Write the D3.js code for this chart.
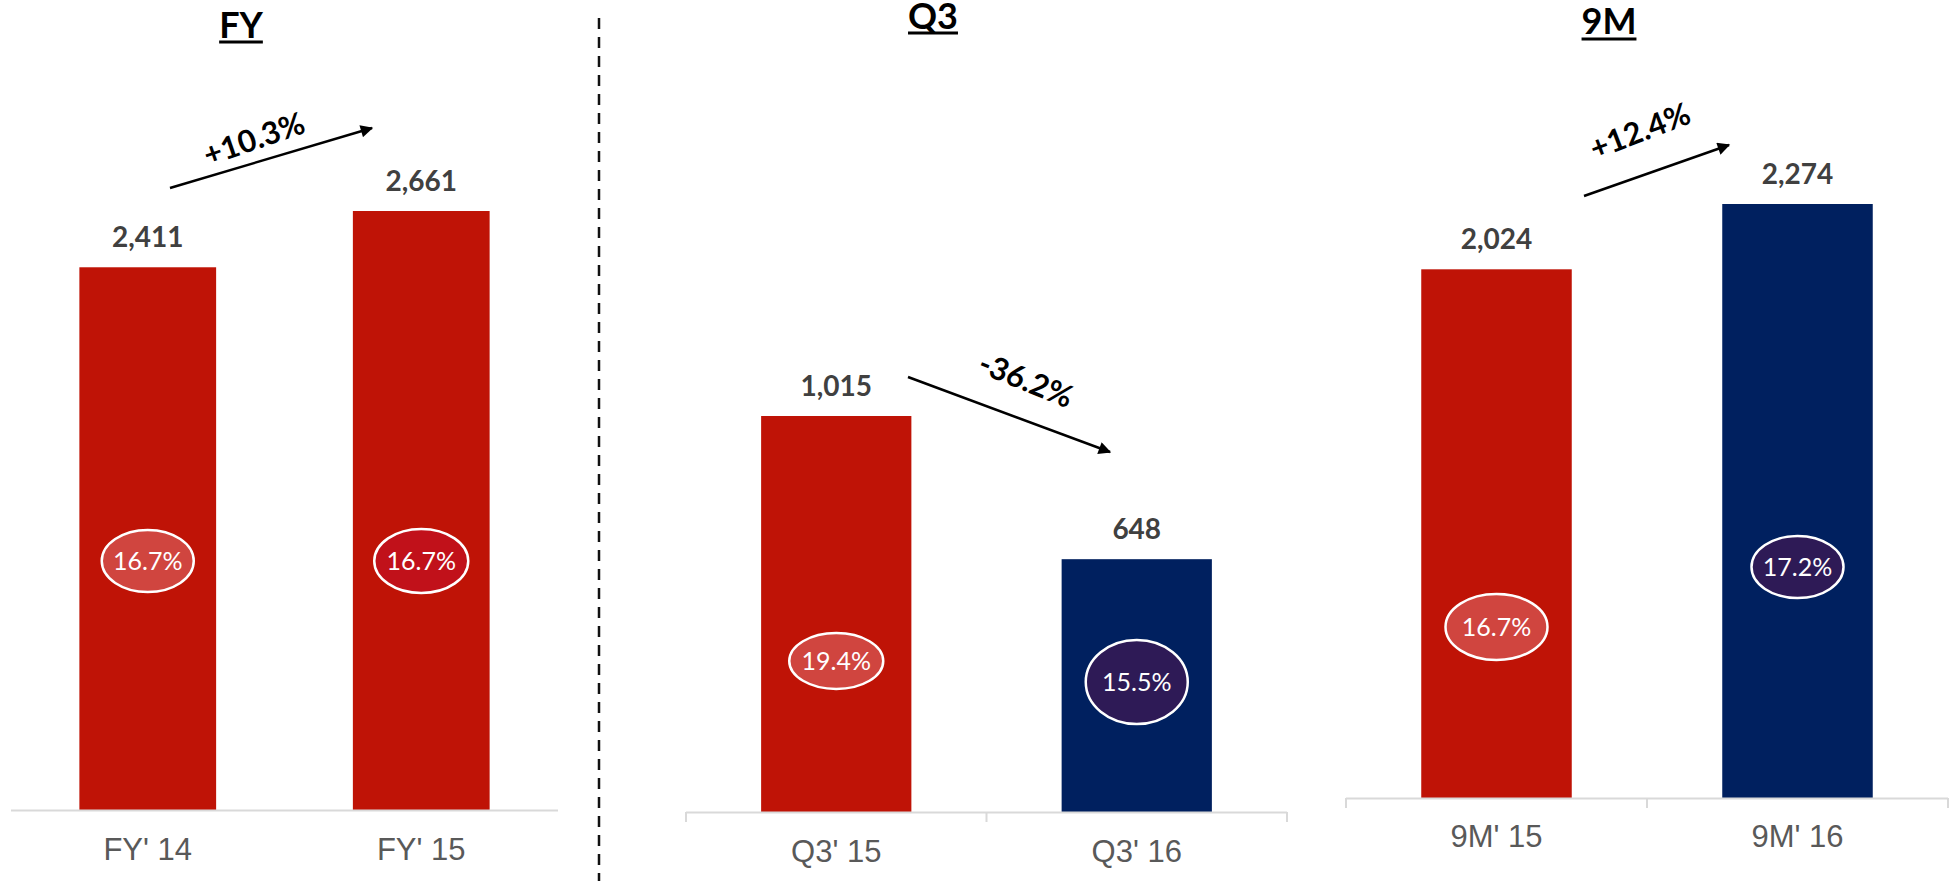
<!DOCTYPE html>
<html>
<head>
<meta charset="utf-8">
<script src="https://cdn.jsdelivr.net/npm/d3@7"></script>
<style>
  html, body { margin: 0; padding: 0; background: #ffffff; }
  svg { display: block; }
</style>
</head>
<body>
<svg id="chart" width="1950" height="881"></svg>
<script>
// ---- Data ----
const panelTitles = ["FY", "Q3", "9M"];
const fyCategories = ["FY' 14", "FY' 15"];
const fyValues = [2411, 2661];
const fyMargins = ["16.7%", "16.7%"];
const q3Categories = ["Q3' 15", "Q3' 16"];
const q3Values = [1015, 648];
const q3Margins = ["19.4%", "15.5%"];
const nmCategories = ["9M' 15", "9M' 16"];
const nmValues = [2024, 2274];
const nmMargins = ["16.7%", "17.2%"];
const changeLabels = ["+10.3%", "-36.2%", "+12.4%"];

// ---- Colours ----
const RED = "#BF1306";
const NAVY = "#00205F";
const LIGHT_RED = "#D0453F";
const DEEP_RED = "#C1111A";
const PURPLE = "#2E1A56";

// ---- Layout of each panel ----
const panels = [
  {
    title: panelTitles[0], cats: fyCategories, vals: fyValues, margins: fyMargins,
    x0: 11, x1: 558, base: 810, maxTop: 211, ticks: false,
    barColors: [RED, RED], bubbleColors: [LIGHT_RED, DEEP_RED],
    bubbles: [{cy: 561, rx: 46, ry: 31}, {cy: 561, rx: 47, ry: 32}],
    titleX: 241, titleY: 38, underlineY: 42,
    labelY: 860,
    arrow: {x1: 170, y1: 188, x2: 372, y2: 128},
    change: {text: changeLabels[0], x: 254, y: 139, angle: -19}
  },
  {
    title: panelTitles[1], cats: q3Categories, vals: q3Values, margins: q3Margins,
    x0: 686, x1: 1287, base: 812, maxTop: 416, ticks: true,
    barColors: [RED, NAVY], bubbleColors: [LIGHT_RED, PURPLE],
    bubbles: [{cy: 661, rx: 47, ry: 28}, {cy: 682, rx: 51, ry: 42}],
    titleX: 933, titleY: 29, underlineY: 33,
    labelY: 862,
    arrow: {x1: 908, y1: 377, x2: 1110, y2: 452},
    change: {text: changeLabels[1], x: 1026, y: 380, angle: 22}
  },
  {
    title: panelTitles[2], cats: nmCategories, vals: nmValues, margins: nmMargins,
    x0: 1346, x1: 1948, base: 798, maxTop: 204, ticks: true,
    barColors: [RED, NAVY], bubbleColors: [LIGHT_RED, PURPLE],
    bubbles: [{cy: 627, rx: 51, ry: 33}, {cy: 567, rx: 46, ry: 31}],
    titleX: 1609, titleY: 34, underlineY: 39,
    labelY: 847,
    arrow: {x1: 1584, y1: 196, x2: 1729, y2: 145},
    change: {text: changeLabels[2], x: 1640, y: 131, angle: -21}
  }
];

const svg = d3.select("#chart");
const fmt = d3.format(",");

// Arrowhead marker
svg.append("defs").append("marker")
  .attr("id", "arrowhead")
  .attr("viewBox", "0 0 10 10")
  .attr("refX", 9).attr("refY", 5)
  .attr("markerWidth", 6).attr("markerHeight", 5)
  .attr("markerUnits", "strokeWidth")
  .attr("orient", "auto")
  .append("path")
  .attr("d", "M0,0 L10,5 L0,10 Z")
  .attr("fill", "#000");

// Dashed divider between the full-year panel and the quarterly panels
svg.append("line")
  .attr("x1", 599).attr("x2", 599)
  .attr("y1", 18).attr("y2", 881)
  .attr("stroke", "#111")
  .attr("stroke-width", 2.5)
  .attr("stroke-dasharray", "11 8");

panels.forEach(p => {
  const g = svg.append("g");

  const x = d3.scaleBand()
    .domain(p.cats)
    .range([p.x0, p.x1])
    .paddingInner(0.5)
    .paddingOuter(0.25);

  const y = d3.scaleLinear()
    .domain([0, d3.max(p.vals)])
    .range([p.base, p.maxTop]);

  const rows = p.cats.map((c, i) => ({cat: c, val: p.vals[i], margin: p.margins[i], i}));

  // Bars
  g.selectAll("rect.bar").data(rows).join("rect")
    .attr("class", "bar")
    .attr("x", d => x(d.cat))
    .attr("width", x.bandwidth())
    .attr("y", d => y(d.val))
    .attr("height", d => y(0) - y(d.val))
    .attr("fill", d => p.barColors[d.i]);

  // Category axis
  const axis = d3.axisBottom(x).tickSize(0).tickPadding(0);
  const ax = g.append("g")
    .attr("transform", `translate(0,${p.base})`)
    .call(axis);
  ax.select(".domain")
    .attr("d", `M${p.x0},0.5H${p.x1}`)
    .attr("stroke", "#D9D9D9")
    .attr("stroke-width", 2);
  ax.selectAll(".tick text")
    .attr("y", p.labelY - p.base)
    .attr("dy", 0)
    .attr("fill", "#595959")
    .style("font-family", "'Liberation Sans', Arial, sans-serif")
    .style("font-size", "31px");

  // Boundary tick marks between categories
  if (p.ticks) {
    const step = x.step();
    const edges = [p.x0, p.x0 + step, p.x1];
    ax.selectAll("line.edge").data(edges).join("line")
      .attr("class", "edge")
      .attr("x1", d => d).attr("x2", d => d)
      .attr("y1", 0).attr("y2", 10)
      .attr("stroke", "#D9D9D9")
      .attr("stroke-width", 2);
  }

  // Value labels above bars
  g.selectAll("text.value").data(rows).join("text")
    .attr("class", "value")
    .attr("x", d => x(d.cat) + x.bandwidth() / 2)
    .attr("y", d => y(d.val) - 20)
    .attr("text-anchor", "middle")
    .attr("fill", "#404040")
    .style("font-family", "Lato, 'Open Sans', sans-serif")
    .style("font-weight", "700")
    .style("font-size", "28px")
    .text(d => fmt(d.val));

  // Margin bubbles inside bars
  const bub = g.selectAll("g.bubble").data(rows).join("g")
    .attr("class", "bubble")
    .attr("transform", d => `translate(${x(d.cat) + x.bandwidth() / 2},${p.bubbles[d.i].cy})`);
  bub.append("ellipse")
    .attr("rx", d => p.bubbles[d.i].rx)
    .attr("ry", d => p.bubbles[d.i].ry)
    .attr("fill", d => p.bubbleColors[d.i])
    .attr("stroke", "#ffffff")
    .attr("stroke-width", 2.5);
  bub.append("text")
    .attr("text-anchor", "middle")
    .attr("dy", "0.35em")
    .attr("fill", "#ffffff")
    .style("font-family", "Lato, 'Open Sans', sans-serif")
    .style("font-weight", "400")
    .style("font-size", "25px")
    .text(d => d.margin);

  // Panel title with underline
  const title = g.append("text")
    .attr("x", p.titleX)
    .attr("y", p.titleY)
    .attr("text-anchor", "middle")
    .attr("fill", "#000")
    .style("font-family", "Lato, 'Open Sans', sans-serif")
    .style("font-weight", "700")
    .style("font-size", "36px")
    .text(p.title);
  const tw = title.node().getComputedTextLength();
  g.append("line")
    .attr("x1", p.titleX - tw / 2).attr("x2", p.titleX + tw / 2)
    .attr("y1", p.underlineY).attr("y2", p.underlineY)
    .attr("stroke", "#000")
    .attr("stroke-width", 3);

  // Growth arrow and its label
  g.append("line")
    .attr("x1", p.arrow.x1).attr("y1", p.arrow.y1)
    .attr("x2", p.arrow.x2).attr("y2", p.arrow.y2)
    .attr("stroke", "#000")
    .attr("stroke-width", 2.5)
    .attr("marker-end", "url(#arrowhead)");
  g.append("text")
    .attr("transform", `translate(${p.change.x},${p.change.y}) rotate(${p.change.angle})`)
    .attr("text-anchor", "middle")
    .attr("dy", "0.35em")
    .attr("fill", "#000")
    .style("font-family", "Lato, 'Open Sans', sans-serif")
    .style("font-weight", "700")
    .style("font-size", "31px")
    .text(p.change.text);
});
</script>
</body>
</html>
